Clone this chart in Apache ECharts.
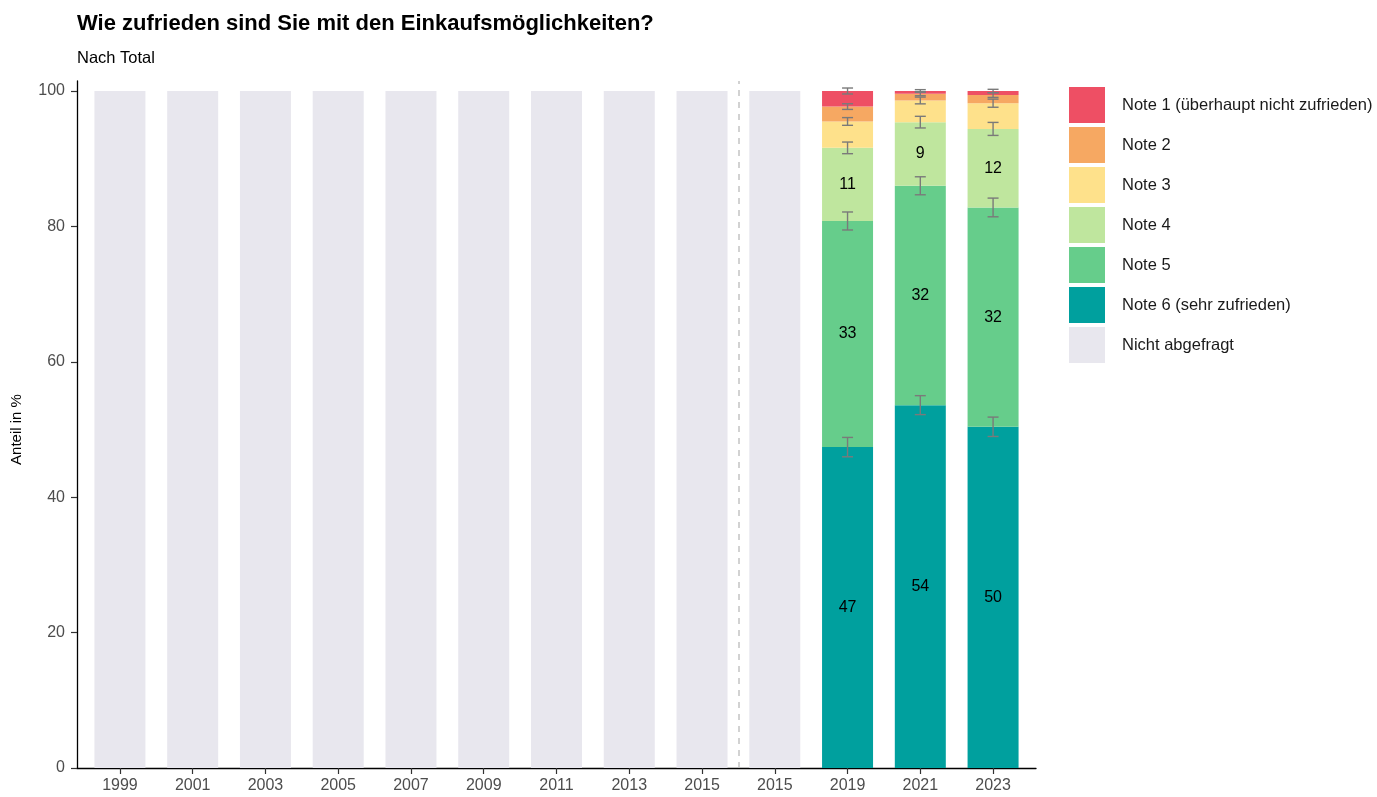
<!DOCTYPE html>
<html>
<head>
<meta charset="utf-8">
<script src="https://cdn.jsdelivr.net/npm/echarts@6/dist/echarts.min.js"></script>
<style>
  html, body { margin: 0; padding: 0; background: #fff; }
  #chart { width: 1377px; height: 797px; }
</style>
</head>
<body>
<div id="chart"></div>
<script>
// Survey years (2015 appears twice: before and after the method change)
const years = ['1999', '2001', '2003', '2005', '2007', '2009', '2011', '2013', '2015', '2015', '2019', '2021', '2023'];

// Shares in % per rating, bottom (Note 6) to top (Note 1)
const note6 = ['-', '-', '-', '-', '-', '-', '-', '-', '-', '-', 47.4, 53.6, 50.4];
const note5 = ['-', '-', '-', '-', '-', '-', '-', '-', '-', '-', 33.4, 32.4, 32.4];
const note4 = ['-', '-', '-', '-', '-', '-', '-', '-', '-', '-', 10.8, 9.4, 11.6];
const note3 = ['-', '-', '-', '-', '-', '-', '-', '-', '-', '-', 3.9, 3.2, 3.8];
const note2 = ['-', '-', '-', '-', '-', '-', '-', '-', '-', '-', 2.2, 1.0, 1.2];
const note1 = ['-', '-', '-', '-', '-', '-', '-', '-', '-', '-', 2.3, 0.4, 0.6];
const notAsked = [100, 100, 100, 100, 100, 100, 100, 100, 100, 100, '-', '-', '-'];

// Confidence half-widths (percentage points) at the top of each segment
const err6 = ['-', '-', '-', '-', '-', '-', '-', '-', '-', '-', 1.43, 1.40, 1.43];
const err5 = ['-', '-', '-', '-', '-', '-', '-', '-', '-', '-', 1.33, 1.33, 1.38];
const err4 = ['-', '-', '-', '-', '-', '-', '-', '-', '-', '-', 0.86, 0.86, 0.96];
const err3 = ['-', '-', '-', '-', '-', '-', '-', '-', '-', '-', 0.57, 0.50, 0.60];
const err2 = ['-', '-', '-', '-', '-', '-', '-', '-', '-', '-', 0.42, 0.30, 0.35];
const err1 = ['-', '-', '-', '-', '-', '-', '-', '-', '-', '-', 0.44, 0.20, 0.25];

const yTicks = [0, 20, 40, 60, 80, 100];
const breakAfter = 8.5; // dashed separator between the two 2015 columns

const FONT = '"Liberation Sans", Arial, sans-serif';

const ratings = [
  { name: 'Note 6 (sehr zufrieden)', data: note6, err: err6, color: '#00a09e' },
  { name: 'Note 5', data: note5, err: err5, color: '#66cd8b' },
  { name: 'Note 4', data: note4, err: err4, color: '#bfe69e' },
  { name: 'Note 3', data: note3, err: err3, color: '#fee18b' },
  { name: 'Note 2', data: note2, err: err2, color: '#f6a862' },
  { name: 'Note 1 (überhaupt nicht zufrieden)', data: note1, err: err1, color: '#ee4f64' }
];

// Panel geometry
const panelLeft = 77, panelRight = 1036, panelBottom = 29;
const pad = 0.09; // extra space beyond the outer half-bands, in category units
const band = (panelRight - panelLeft) / (years.length + 2 * pad);
const barsLeft = panelLeft + pad * band;
const barsWidth = band * years.length;

// Error bar segments: [category index, low, high] at cumulative segment tops
const errData = [];
years.forEach((y, i) => {
  let cum = 0;
  ratings.forEach(r => {
    const v = r.data[i];
    if (v === '-') return;
    cum += v;
    const e = r.err[i];
    errData.push([i, cum - e, cum + e]);
  });
});

const chart = echarts.init(document.getElementById('chart'));

const series = [];
ratings.forEach(r => {
  series.push({
    name: r.name,
    type: 'bar',
    stack: 'total',
    xAxisIndex: 1,
    yAxisIndex: 1,
    barWidth: 51,
    itemStyle: { color: r.color },
    label: {
      show: true,
      position: 'inside',
      fontFamily: FONT,
      fontSize: 16,
      color: '#000',
      formatter: p => (p.value >= 5 ? String(Math.round(p.value)) : '')
    },
    emphasis: { disabled: true },
    data: r.data
  });
});
series.push({
  name: 'Nicht abgefragt',
  type: 'bar',
  stack: 'total',
  xAxisIndex: 1,
  yAxisIndex: 1,
  barWidth: 51,
  itemStyle: { color: '#e8e7ee' },
  emphasis: { disabled: true },
  data: notAsked
});
series.push({
  name: 'ci',
  type: 'custom',
  xAxisIndex: 1,
  yAxisIndex: 1,
  silent: true,
  z: 5,
  renderItem: (params, api) => {
    const x = api.value(0);
    const lo = api.coord([x, api.value(1)]);
    const hi = api.coord([x, api.value(2)]);
    const cap = 5.5;
    const style = { stroke: '#7a7a7a', lineWidth: 1.4, fill: null };
    return {
      type: 'group',
      children: [
        { type: 'line', shape: { x1: lo[0], y1: lo[1], x2: hi[0], y2: hi[1] }, style },
        { type: 'line', shape: { x1: lo[0] - cap, y1: lo[1], x2: lo[0] + cap, y2: lo[1] }, style },
        { type: 'line', shape: { x1: hi[0] - cap, y1: hi[1], x2: hi[0] + cap, y2: hi[1] }, style }
      ]
    };
  },
  data: errData
});
// Frame series carrying the dashed separator
series.push({
  name: 'separator',
  type: 'line',
  xAxisIndex: 0,
  yAxisIndex: 0,
  data: [],
  silent: true,
  markLine: {
    silent: true,
    symbol: ['none', 'none'],
    label: { show: false },
    lineStyle: { color: '#c4c4c4', type: [6, 6], width: 1.5 },
    data: [{ xAxis: breakAfter }]
  }
});

chart.setOption({
  animation: false,
  backgroundColor: '#fff',
  title: {
    text: 'Wie zufrieden sind Sie mit den Einkaufsmöglichkeiten?',
    subtext: 'Nach Total',
    left: 77,
    top: 13,
    padding: 0,
    itemGap: 15,
    textStyle: { fontFamily: FONT, fontSize: 22, fontWeight: 'bold', color: '#000' },
    subtextStyle: { fontFamily: FONT, fontSize: 16.5, color: '#000' }
  },
  legend: {
    orient: 'vertical',
    left: 1069,
    top: 87,
    padding: 0,
    itemWidth: 36,
    itemHeight: 36,
    itemGap: 4,
    icon: 'rect',
    selectedMode: false,
    data: [
      'Note 1 (überhaupt nicht zufrieden)', 'Note 2', 'Note 3', 'Note 4', 'Note 5',
      'Note 6 (sehr zufrieden)', 'Nicht abgefragt'
    ],
    textStyle: { fontFamily: FONT, fontSize: 16.5, color: '#1a1a1a', padding: [0, 0, 0, 12] }
  },
  grid: [
    { left: panelLeft, right: 1377 - panelRight, top: 81, bottom: panelBottom },
    { left: barsLeft, width: barsWidth, top: 91, bottom: panelBottom }
  ],
  xAxis: [
    {
      type: 'value', gridIndex: 0,
      min: -0.5 - pad, max: years.length - 0.5 + pad,
      axisLine: { show: true, onZero: false, lineStyle: { color: '#000', width: 1.3 } },
      axisTick: { show: false }, axisLabel: { show: false }, splitLine: { show: false }
    },
    {
      type: 'category', gridIndex: 1, data: years,
      axisLine: { show: false },
      axisTick: { show: true, alignWithLabel: true, length: 6, lineStyle: { color: '#333', width: 1.2 } },
      axisLabel: { fontFamily: FONT, fontSize: 16, color: '#4d4d4d', margin: 10, interval: 0 },
      splitLine: { show: false }
    }
  ],
  yAxis: [
    {
      type: 'value', gridIndex: 0, min: 0, max: 1,
      axisLine: { show: true, onZero: false, lineStyle: { color: '#000', width: 1.3 } },
      axisTick: { show: false }, axisLabel: { show: false }, splitLine: { show: false }
    },
    {
      type: 'value', gridIndex: 1, min: 0, max: 100, interval: 20,
      offset: barsLeft - panelLeft,
      name: 'Anteil in %',
      nameLocation: 'middle',
      nameRotate: 90,
      nameGap: 53,
      nameTextStyle: { fontFamily: FONT, fontSize: 15, color: '#000' },
      axisLine: { show: false },
      axisTick: { show: true, length: 6, lineStyle: { color: '#333', width: 1.2 } },
      axisLabel: {
        fontFamily: FONT, fontSize: 16, color: '#4d4d4d', margin: 12,
        formatter: v => (yTicks.includes(v) ? String(v) : '')
      },
      splitLine: { show: false }
    }
  ],
  series: series
});
</script>
</body>
</html>
